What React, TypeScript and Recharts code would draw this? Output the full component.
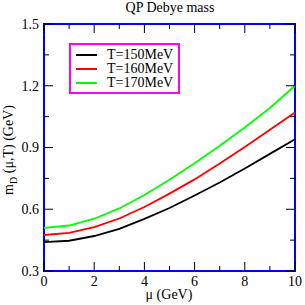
import { LineChart, Line, XAxis, YAxis, ReferenceArea, Legend } from "recharts";

// chemical potential mu (GeV)
const mu = [0, 1, 2, 3, 4, 5, 6, 7, 8, 9, 10];
// Debye mass m_D (GeV) for each temperature
const t150 = [0.44, 0.447, 0.47, 0.505, 0.553, 0.606, 0.667, 0.73, 0.798, 0.869, 0.94];
const t160 = [0.475, 0.485, 0.513, 0.555, 0.611, 0.676, 0.745, 0.822, 0.903, 0.986, 1.07];
const t170 = [0.51, 0.521, 0.554, 0.604, 0.669, 0.743, 0.823, 0.908, 0.997, 1.092, 1.2];

// every tick position; the labelled (major) ones are listed separately
const xTicks = [0, 1, 2, 3, 4, 5, 6, 7, 8, 9, 10];
const xMajor = [0, 2, 4, 6, 8, 10];
const yTicks = [0.3, 0.45, 0.6, 0.75, 0.9, 1.05, 1.2, 1.35, 1.5];
const yMajor = [0.3, 0.6, 0.9, 1.2, 1.5];

const data = mu.map((m, i) => ({ mu: m, t150: t150[i], t160: t160[i], t170: t170[i] }));

const FONT = "'Liberation Serif', 'Times New Roman', serif";

// plot box in pixels (from the margins below), used for the mirrored tick marks
const PLOT = { left: 44, right: 295, top: 24, bottom: 271 };
const MAJOR_LEN = 9;
const MINOR_LEN = 5;

const isMajor = (list: number[], v: number) => list.some((m) => Math.abs(m - v) < 1e-6);

function XTick({ x, payload }: any) {
  const major = isMajor(xMajor, payload.value);
  const len = major ? MAJOR_LEN : MINOR_LEN;
  return (
    <g>
      <line x1={x} x2={x} y1={PLOT.bottom} y2={PLOT.bottom - len} stroke="#000" strokeWidth={1} />
      <line x1={x} x2={x} y1={PLOT.top} y2={PLOT.top + len} stroke="#000" strokeWidth={1} />
      {major && (
        <text x={x} y={PLOT.bottom + 15} textAnchor="middle" fontFamily={FONT} fontSize={14} fill="#000">
          {payload.value}
        </text>
      )}
    </g>
  );
}

function YTick({ y, payload }: any) {
  const major = isMajor(yMajor, payload.value);
  const len = major ? MAJOR_LEN : MINOR_LEN;
  return (
    <g>
      <line x1={PLOT.left} x2={PLOT.left + len} y1={y} y2={y} stroke="#000" strokeWidth={1} />
      <line x1={PLOT.right} x2={PLOT.right - len} y1={y} y2={y} stroke="#000" strokeWidth={1} />
      {major && (
        <text x={PLOT.left - 5} y={y} dy="0.355em" textAnchor="end" fontFamily={FONT} fontSize={14} fill="#000">
          {Number(payload.value).toFixed(1)}
        </text>
      )}
    </g>
  );
}

function LegendBox({ payload }: any) {
  return (
    <div
      style={{
        boxSizing: "border-box",
        width: 111,
        height: 51,
        border: "2px solid #ff00ff",
        background: "#fff",
        padding: "3px 0 2px 5px",
        fontFamily: FONT,
        fontSize: 14,
        lineHeight: "14px",
      }}
    >
      {(payload || []).map((p: any) => (
        <div key={p.value} style={{ display: "flex", alignItems: "center", height: 14 }}>
          <span style={{ display: "inline-block", width: 21, height: 2, background: p.color, marginRight: 10 }} />
          <span>{p.value}</span>
        </div>
      ))}
    </div>
  );
}

export default function App() {
  return (
    <div style={{ position: "absolute", left: 0, top: 0, width: 305, height: 305, background: "#fff" }}>
      <LineChart
        width={305}
        height={305}
        data={data}
        margin={{ top: 24, right: 10, left: 14, bottom: 14 }}
      >
        <XAxis
          dataKey="mu"
          type="number"
          domain={[0, 10]}
          ticks={xTicks}
          height={20}
          tickSize={0}
          tickMargin={6}
          tickLine={false}
          axisLine={false}
          tick={<XTick />}
          interval={0}
        />
        <YAxis
          type="number"
          domain={[0.3, 1.5]}
          ticks={yTicks}
          width={30}
          tickSize={0}
          tickMargin={5}
          tickLine={false}
          axisLine={false}
          tick={<YTick />}
          interval={0}
        />

        <Line type="linear" dataKey="t150" name="T=150MeV" stroke="#000000" strokeWidth={1.8} dot={false} isAnimationActive={false} />
        <Line type="linear" dataKey="t160" name="T=160MeV" stroke="#ff0000" strokeWidth={1.8} dot={false} isAnimationActive={false} />
        <Line type="linear" dataKey="t170" name="T=170MeV" stroke="#00ff00" strokeWidth={1.8} dot={false} isAnimationActive={false} />

        {/* plot frame */}
        <ReferenceArea x1={0} x2={10} y1={0.3} y2={1.5} fill="none" fillOpacity={0} stroke="#0000ff" strokeWidth={2} ifOverflow="visible" />

        <Legend
          layout="vertical"
          align="center"
          verticalAlign="middle"
          content={<LegendBox />}
          wrapperStyle={{ position: "absolute", left: 69, top: 43, width: 111, height: 51 }}
        />
      </LineChart>

      <svg width={305} height={305} style={{ position: "absolute", left: 0, top: 0, pointerEvents: "none" }}>
        <text x={170} y={12} textAnchor="middle" fontFamily={FONT} fontSize={14} fill="#000">
          QP Debye mass
        </text>
        <text x={169} y={299} textAnchor="middle" fontFamily={FONT} fontSize={14} fill="#000">
          μ (GeV)
        </text>
        <text transform="translate(13,150) rotate(-90)" textAnchor="middle" fontFamily={FONT} fontSize={14} fill="#000">
          m<tspan fontSize={10} dy={4}>D</tspan>
          <tspan dy={-4}> (μ,T) (GeV)</tspan>
        </text>
      </svg>
    </div>
  );
}
